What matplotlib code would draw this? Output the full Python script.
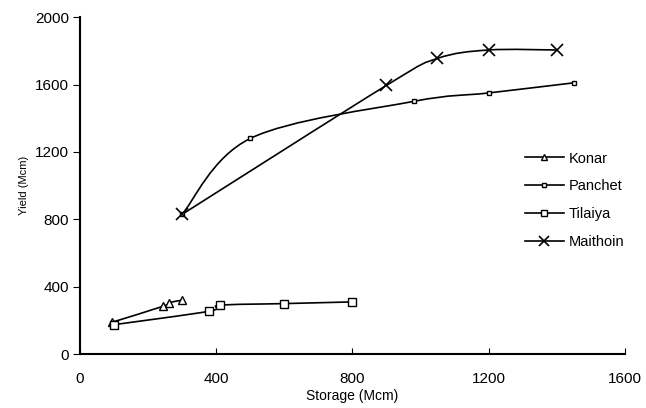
import numpy as np
import matplotlib.pyplot as plt
from matplotlib.path import Path
from matplotlib.patches import PathPatch
from matplotlib.lines import Line2D

plt.rcParams['font.family'] = ['Liberation Sans', 'DejaVu Sans']

# data (storage, yield in Mcm)
konar_s = [95, 245, 260, 300]
konar_y = [190, 285, 305, 320]

panchet_s = [300, 500, 980, 1200, 1450]
panchet_y = [830, 1280, 1500, 1550, 1610]

tilaiya_s = [100, 380, 410, 600, 800]
tilaiya_y = [175, 255, 290, 300, 310]

maithoin_s = [300, 900, 1050, 1200, 1400]
maithoin_y = [830, 1595, 1755, 1805, 1805]

series_names = ['Konar', 'Panchet', 'Tilaiya', 'Maithoin']


def smooth_path(xs, ys):
    # Excel-style smoothed line: cubic bezier through the points
    pts = np.column_stack([xs, ys]).astype(float)
    n = len(pts)
    verts = [pts[0]]
    codes = [Path.MOVETO]
    for i in range(n - 1):
        p0 = pts[i - 1] if i > 0 else pts[i]
        p1 = pts[i]
        p2 = pts[i + 1]
        p3 = pts[i + 2] if i + 2 < n else pts[i + 1]
        c1 = p1 + (p2 - p0) / 6.0
        c2 = p2 - (p3 - p1) / 6.0
        verts += [c1, c2, p2]
        codes += [Path.CURVE4] * 3
    return Path(verts, codes)


fig = plt.figure(figsize=(6.46, 4.08), dpi=100)
ax = fig.add_axes([0.124, 0.132, 0.843, 0.826])

lw = 1.2
for xs, ys in [(konar_s, konar_y), (panchet_s, panchet_y),
               (tilaiya_s, tilaiya_y), (maithoin_s, maithoin_y)]:
    ax.add_patch(PathPatch(smooth_path(xs, ys), fill=False, edgecolor='black', lw=lw))

ax.plot(konar_s, konar_y, ls='none', marker='^', ms=6, mfc='white', mec='black', mew=1)
ax.plot(panchet_s, panchet_y, ls='none', marker='s', ms=3.5, mfc='white', mec='black', mew=1)
ax.plot(tilaiya_s, tilaiya_y, ls='none', marker='s', ms=6, mfc='white', mec='black', mew=1)
ax.plot(maithoin_s, maithoin_y, ls='none', marker='x', ms=8, mec='black', mew=1.2)

handles = [
    Line2D([], [], color='black', lw=lw, marker='^', ms=5, mfc='white', mec='black'),
    Line2D([], [], color='black', lw=lw, marker='s', ms=3, mfc='white', mec='black'),
    Line2D([], [], color='black', lw=lw, marker='s', ms=5, mfc='white', mec='black'),
    Line2D([], [], color='black', lw=lw, marker='x', ms=7, mec='black', mew=1.2),
]
ax.legend(handles, series_names, loc='upper left', bbox_to_anchor=(0.792, 0.64),
          frameon=False, fontsize=10.5, handlelength=2.7, labelspacing=0.95,
          handletextpad=0.35)

ax.set_xlim(0, 1600)
ax.set_ylim(0, 2000)
ax.set_xticks([0, 400, 800, 1200, 1600])
ax.set_yticks([0, 400, 800, 1200, 1600, 2000])
ax.tick_params(axis='x', direction='in', length=4, labelsize=11, pad=13)
ax.tick_params(axis='y', direction='out', length=5, labelsize=11, pad=3)
ax.spines['top'].set_visible(False)
ax.spines['right'].set_visible(False)
ax.spines['left'].set_linewidth(1.5)
ax.spines['bottom'].set_linewidth(1.5)

ax.set_xlabel('Storage (Mcm)', fontsize=10, labelpad=2)
ax.set_ylabel('Yield (Mcm)', fontsize=8, labelpad=4)

fig.savefig('out.png', dpi=100)
